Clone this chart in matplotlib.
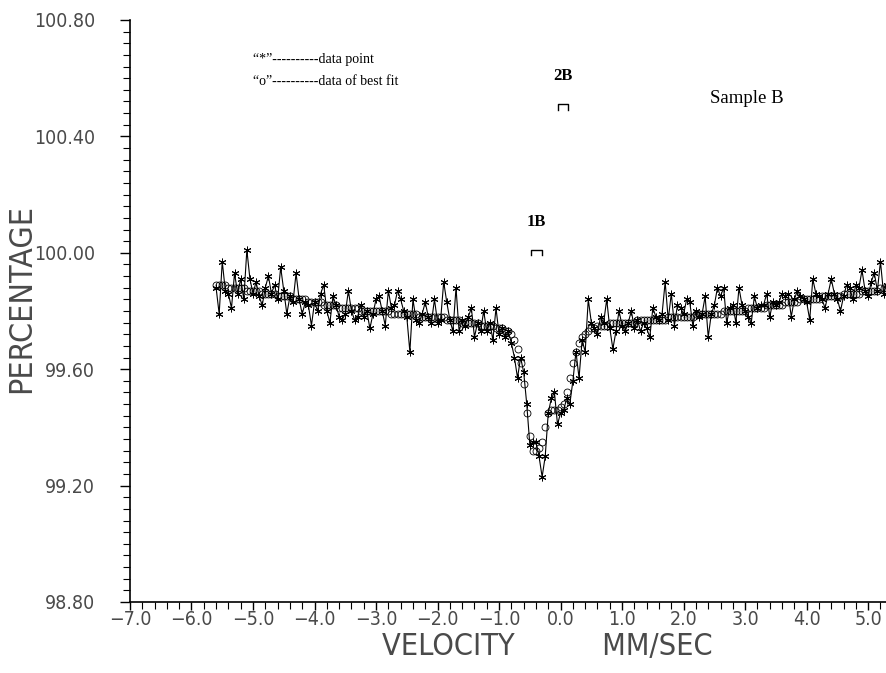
import numpy as np
import matplotlib.pyplot as plt
from matplotlib.ticker import MultipleLocator, FuncFormatter

# Mossbauer spectrum, sample B
velocity = [
    -5.60, -5.55, -5.50, -5.45, -5.40, -5.35, -5.30, -5.25, -5.20, -5.15,
    -5.10, -5.05, -5.00, -4.95, -4.90, -4.85, -4.80, -4.75, -4.70, -4.65,
    -4.60, -4.55, -4.50, -4.45, -4.40, -4.35, -4.30, -4.25, -4.20, -4.15,
    -4.10, -4.05, -4.00, -3.95, -3.90, -3.85, -3.80, -3.75, -3.70, -3.65,
    -3.60, -3.55, -3.50, -3.45, -3.40, -3.35, -3.30, -3.25, -3.20, -3.15,
    -3.10, -3.05, -3.00, -2.95, -2.90, -2.85, -2.80, -2.75, -2.70, -2.65,
    -2.60, -2.55, -2.50, -2.45, -2.40, -2.35, -2.30, -2.25, -2.20, -2.15,
    -2.10, -2.05, -2.00, -1.95, -1.90, -1.85, -1.80, -1.75, -1.70, -1.65,
    -1.60, -1.55, -1.50, -1.45, -1.40, -1.35, -1.30, -1.25, -1.20, -1.15,
    -1.10, -1.05, -1.00, -0.95, -0.90, -0.85, -0.80, -0.75, -0.70, -0.65,
    -0.60, -0.55, -0.50, -0.45, -0.40, -0.35, -0.30, -0.25, -0.20, -0.15,
    -0.10, -0.05, 0.00, 0.05, 0.10, 0.15, 0.20, 0.25, 0.30, 0.35,
    0.40, 0.45, 0.50, 0.55, 0.60, 0.65, 0.70, 0.75, 0.80, 0.85,
    0.90, 0.95, 1.00, 1.05, 1.10, 1.15, 1.20, 1.25, 1.30, 1.35,
    1.40, 1.45, 1.50, 1.55, 1.60, 1.65, 1.70, 1.75, 1.80, 1.85,
    1.90, 1.95, 2.00, 2.05, 2.10, 2.15, 2.20, 2.25, 2.30, 2.35,
    2.40, 2.45, 2.50, 2.55, 2.60, 2.65, 2.70, 2.75, 2.80, 2.85,
    2.90, 2.95, 3.00, 3.05, 3.10, 3.15, 3.20, 3.25, 3.30, 3.35,
    3.40, 3.45, 3.50, 3.55, 3.60, 3.65, 3.70, 3.75, 3.80, 3.85,
    3.90, 3.95, 4.00, 4.05, 4.10, 4.15, 4.20, 4.25, 4.30, 4.35,
    4.40, 4.45, 4.50, 4.55, 4.60, 4.65, 4.70, 4.75, 4.80, 4.85,
    4.90, 4.95, 5.00, 5.05, 5.10, 5.15, 5.20, 5.25, 5.30,
]

# measured transmission (%), "*" points
data = [
    99.88, 99.79, 99.97, 99.87, 99.86, 99.81, 99.93, 99.86, 99.91, 99.84,
    100.01, 99.91, 99.86, 99.90, 99.85, 99.82, 99.88, 99.92, 99.86, 99.89,
    99.84, 99.95, 99.87, 99.79, 99.85, 99.83, 99.93, 99.84, 99.79, 99.83,
    99.82, 99.75, 99.83, 99.80, 99.86, 99.89, 99.80, 99.76, 99.85, 99.82,
    99.78, 99.77, 99.79, 99.87, 99.80, 99.77, 99.78, 99.82, 99.78, 99.80,
    99.74, 99.79, 99.84, 99.85, 99.80, 99.75, 99.87, 99.81, 99.82, 99.87,
    99.84, 99.80, 99.78, 99.66, 99.84, 99.77, 99.76, 99.79, 99.83, 99.78,
    99.76, 99.84, 99.76, 99.77, 99.90, 99.83, 99.77, 99.73, 99.88, 99.73,
    99.77, 99.75, 99.78, 99.81, 99.71, 99.76, 99.73, 99.80, 99.73, 99.76,
    99.70, 99.81, 99.72, 99.74, 99.71, 99.73, 99.69, 99.64, 99.57, 99.64,
    99.59, 99.48, 99.34, 99.35, 99.35, 99.30, 99.23, 99.30, 99.45, 99.50,
    99.52, 99.41, 99.45, 99.46, 99.50, 99.48, 99.56, 99.66, 99.57, 99.70,
    99.66, 99.84, 99.76, 99.74, 99.72, 99.78, 99.76, 99.84, 99.74, 99.67,
    99.73, 99.80, 99.75, 99.73, 99.76, 99.80, 99.74, 99.77, 99.73, 99.76,
    99.74, 99.71, 99.81, 99.78, 99.77, 99.79, 99.90, 99.77, 99.86, 99.75,
    99.82, 99.81, 99.79, 99.84, 99.83, 99.75, 99.80, 99.78, 99.79, 99.85,
    99.71, 99.79, 99.82, 99.88, 99.85, 99.88, 99.76, 99.81, 99.82, 99.76,
    99.88, 99.82, 99.80, 99.78, 99.76, 99.85, 99.81, 99.82, 99.82, 99.86,
    99.78, 99.83, 99.82, 99.83, 99.86, 99.85, 99.86, 99.78, 99.84, 99.87,
    99.85, 99.84, 99.83, 99.77, 99.91, 99.86, 99.85, 99.84, 99.81, 99.86,
    99.91, 99.86, 99.84, 99.80, 99.85, 99.89, 99.88, 99.84, 99.89, 99.88,
    99.94, 99.87, 99.85, 99.90, 99.93, 99.87, 99.97, 99.86, 99.89,
]

# best fit, "o" points
fit = [
    99.89, 99.89, 99.89, 99.89, 99.88, 99.88, 99.88, 99.88, 99.88, 99.88,
    99.87, 99.87, 99.87, 99.87, 99.87, 99.86, 99.86, 99.86, 99.86, 99.86,
    99.85, 99.85, 99.85, 99.85, 99.85, 99.84, 99.84, 99.84, 99.84, 99.84,
    99.83, 99.83, 99.83, 99.83, 99.83, 99.82, 99.82, 99.82, 99.82, 99.82,
    99.81, 99.81, 99.81, 99.81, 99.81, 99.81, 99.81, 99.80, 99.80, 99.80,
    99.80, 99.80, 99.80, 99.80, 99.80, 99.80, 99.80, 99.79, 99.79, 99.79,
    99.79, 99.79, 99.79, 99.79, 99.79, 99.79, 99.78, 99.78, 99.78, 99.78,
    99.78, 99.78, 99.78, 99.78, 99.78, 99.77, 99.77, 99.77, 99.77, 99.77,
    99.76, 99.76, 99.76, 99.76, 99.76, 99.76, 99.75, 99.75, 99.75, 99.75,
    99.75, 99.74, 99.74, 99.74, 99.73, 99.73, 99.72, 99.70, 99.67, 99.62,
    99.55, 99.45, 99.37, 99.32, 99.32, 99.33, 99.35, 99.40, 99.45, 99.46,
    99.46, 99.46, 99.47, 99.48, 99.52, 99.57, 99.62, 99.66, 99.69, 99.71,
    99.72, 99.73, 99.74, 99.74, 99.75, 99.75, 99.75, 99.75, 99.76, 99.76,
    99.76, 99.76, 99.76, 99.76, 99.76, 99.76, 99.76, 99.77, 99.77, 99.77,
    99.77, 99.77, 99.77, 99.77, 99.77, 99.77, 99.77, 99.78, 99.78, 99.78,
    99.78, 99.78, 99.78, 99.78, 99.78, 99.78, 99.79, 99.79, 99.79, 99.79,
    99.79, 99.79, 99.79, 99.79, 99.79, 99.80, 99.80, 99.80, 99.80, 99.80,
    99.80, 99.80, 99.80, 99.81, 99.81, 99.81, 99.81, 99.81, 99.81, 99.82,
    99.82, 99.82, 99.82, 99.82, 99.82, 99.83, 99.83, 99.83, 99.83, 99.83,
    99.84, 99.84, 99.84, 99.84, 99.84, 99.84, 99.84, 99.85, 99.85, 99.85,
    99.85, 99.85, 99.85, 99.85, 99.86, 99.86, 99.86, 99.86, 99.86, 99.86,
    99.87, 99.87, 99.87, 99.87, 99.87, 99.87, 99.88, 99.88, 99.88,
]

# site brackets: label, (v_start, v_end), level
site_labels = ["1B", "2B"]
site_ranges = [(-0.48, -0.30), (-0.05, 0.12)]
site_levels = [100.01, 100.51]

# thin, narrow plotter-style lettering for the axis text
axis_font = dict(family=["DejaVu Sans"], stretch="condensed", color="#4a4a4a")

fig = plt.figure(figsize=(8.86, 6.73), dpi=100)
ax = fig.add_axes([0.1467, 0.1055, 0.8533, 0.8648])

# data points joined by a line
ax.plot(velocity, data, color="black", linewidth=0.8,
        marker=(6, 2, 0), markersize=5.5, markeredgewidth=0.7, markeredgecolor="black")
# best fit as open circles
ax.plot(velocity, fit, linestyle="none", marker="o", markersize=5,
        markerfacecolor="none", markeredgecolor="black", markeredgewidth=0.6)

# brackets for the two sites
for lab, (v0, v1), lev in zip(site_labels, site_ranges, site_levels):
    leg = 0.018
    ax.plot([v0, v0, v1, v1], [lev - leg, lev, lev, lev - leg], color="black", linewidth=1.0)
    ax.text((v0 + v1) / 2, lev + 0.07, lab, ha="center", va="bottom",
            fontfamily="Liberation Serif", fontweight="bold", fontsize=12)

ax.text(-5.0, 100.665, "\u201c*\u201d----------data point", fontfamily="Liberation Serif",
        fontsize=10, va="center")
ax.text(-5.0, 100.588, "\u201co\u201d----------data of best fit", fontfamily="Liberation Serif",
        fontsize=10, va="center")
ax.text(2.43, 100.53, "Sample B", fontfamily="Liberation Serif", fontsize=13.5, va="center")

ax.set_xlim(-7.0, 5.29)
ax.set_ylim(98.80, 100.80)

ax.xaxis.set_major_locator(MultipleLocator(1.0))
ax.xaxis.set_minor_locator(MultipleLocator(0.2))
ax.yaxis.set_major_locator(MultipleLocator(0.4))
ax.yaxis.set_minor_locator(MultipleLocator(0.04))
ax.xaxis.set_major_formatter(FuncFormatter(lambda v, pos: f"{v:.1f}".replace("-", "\u2212")))
ax.yaxis.set_major_formatter(FuncFormatter(lambda v, pos: f"{v:.2f}"))

ax.spines["top"].set_visible(False)
ax.spines["right"].set_visible(False)
ax.spines["left"].set_linewidth(1.2)
ax.spines["bottom"].set_linewidth(1.2)
ax.tick_params(which="major", direction="out", length=7, width=1.0)
ax.tick_params(which="minor", direction="out", length=5, width=0.8)
ax.tick_params(axis="x", which="major", length=6, pad=0)
ax.tick_params(axis="y", which="major", pad=18)

for lbl in ax.get_xticklabels() + ax.get_yticklabels():
    lbl.set(fontsize=14, **axis_font)

ax.set_xlabel("VELOCITY          MM/SEC", fontsize=22, **axis_font)
ax.set_ylabel("PERCENTAGE", fontsize=23, **axis_font)
ax.xaxis.set_label_coords(0.552, -0.077)
ax.xaxis.label.set_va("center")
ax.yaxis.set_label_coords(-0.143, 0.522)
ax.yaxis.label.set_va("center")

fig.savefig("out.png", dpi=100)
